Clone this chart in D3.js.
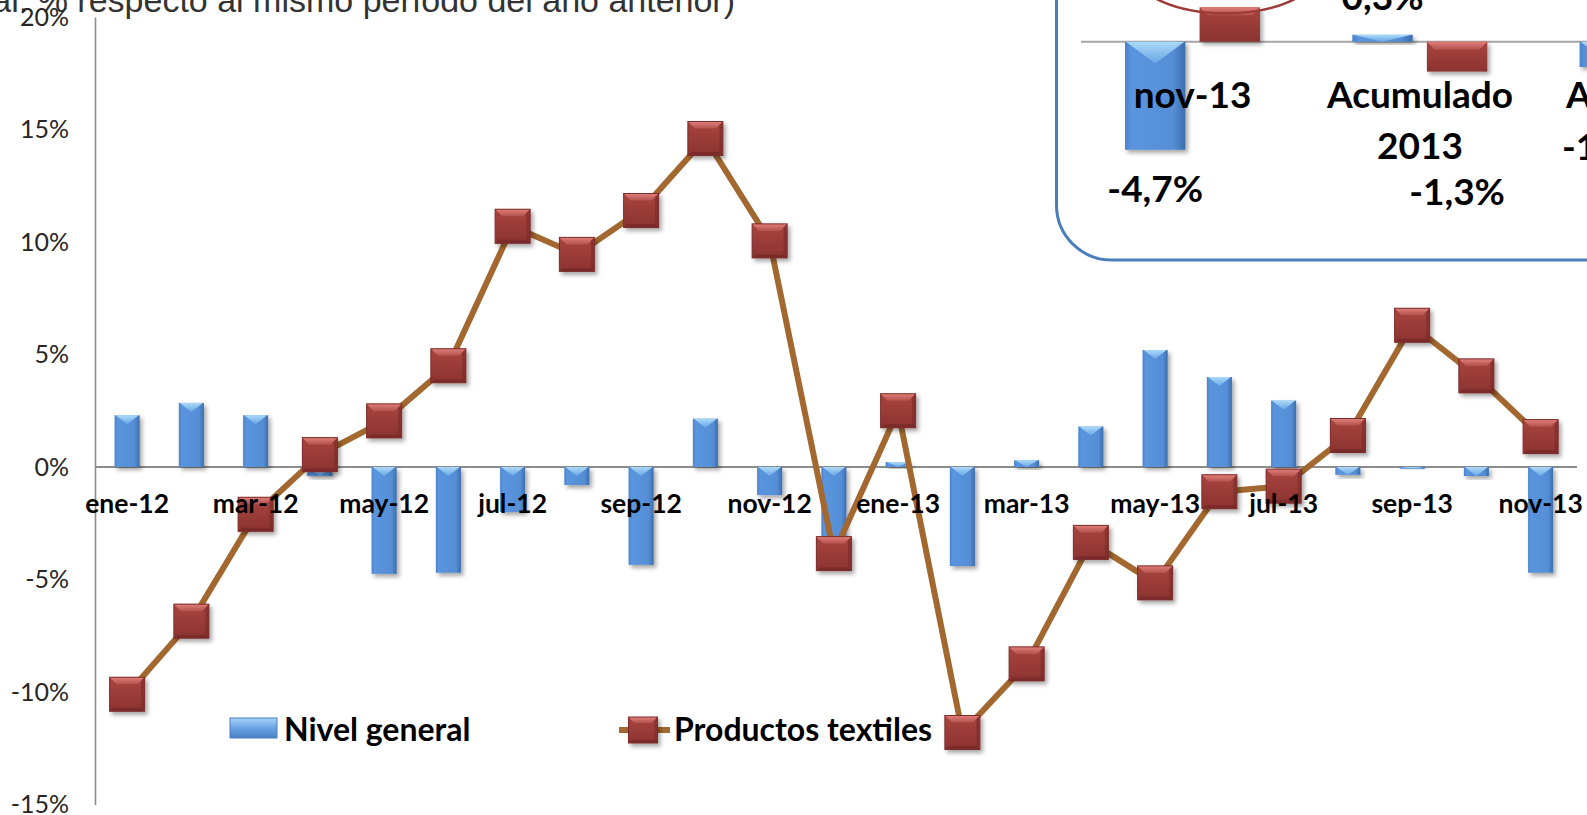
<!DOCTYPE html>
<html><head><meta charset="utf-8">
<script src="https://cdn.jsdelivr.net/npm/d3@7"></script>
<style>
html,body{margin:0;padding:0;background:#fff;overflow:hidden;}
svg{display:block;}
</style></head>
<body>
<div id="chart"></div>
<script>
// ---------------- DATA ----------------
const months = ["ene-12","feb-12","mar-12","abr-12","may-12","jun-12","jul-12","ago-12","sep-12","oct-12","nov-12","dic-12",
                "ene-13","feb-13","mar-13","abr-13","may-13","jun-13","jul-13","ago-13","sep-13","oct-13","nov-13"];
const nivelGeneral = [2.3, 2.85, 2.3, -0.4, -4.75, -4.7, -2.0, -0.8, -4.35, 2.15, -1.25, -3.5,
                      0.22, -4.4, 0.3, 1.8, 5.2, 4.0, 2.95, -0.35, -0.08, -0.4, -4.7];
const productosTextiles = [-10.1, -6.85, -2.1, 0.55, 2.05, 4.5, 10.7, 9.45, 11.4, 14.6, 10.05, -3.85,
                           2.5, -11.8, -8.75, -3.35, -5.15, -1.1, -0.85, 1.4, 6.3, 4.05, 1.35];
const yTicks = [-15, -10, -5, 0, 5, 10, 15, 20];
const seriesNames = ["Nivel general", "Productos textiles"];
const titleText = "(Tasa de variación anual. % respecto al mismo período del año anterior)";

// inset (top right) summary chart
const insetCategories = [["nov-13"], ["Acumulado", "2013"], ["Año 2012"]];
const insetGeneral = [-4.7, 0.3, -1.1];
const insetTextiles = [1.5, -1.3, -0.5];
const insetGeneralLabels = ["-4,7%", "0,3%", "-1,1%"];
const insetTextilesLabels = ["1,5%", "-1,3%", "-0,5%"];

// ---------------- SETUP ----------------
const W = 1587, H = 815;
const svg = d3.select("#chart").append("svg").attr("width", W).attr("height", H)
  .style("font-family", "Lato, 'Open Sans', sans-serif");
const defs = svg.append("defs");

const shadow = defs.append("filter").attr("id","shadow").attr("x","-30%").attr("y","-30%").attr("width","170%").attr("height","170%");
shadow.append("feDropShadow").attr("dx",2.5).attr("dy",3).attr("stdDeviation",2).attr("flood-color","#000").attr("flood-opacity",0.35);

function lg(id, x2, y2, stops){
  const g = defs.append("linearGradient").attr("id", id).attr("x1",0).attr("y1",0).attr("x2",x2).attr("y2",y2);
  stops.forEach(s => g.append("stop").attr("offset", s[0]).attr("stop-color", s[1]));
}
lg("barBody", 1, 0, [["0%","#4b83cc"],["12%","#5a95de"],["80%","#558ed5"],["100%","#3c6dad"]]);
lg("barBevel", 0, 1, [["0%","#b5e2fb"],["100%","#6ba8e8"]]);
lg("mkBody", 0, 1, [["0%","#a8443f"],["100%","#8c3331"]]);
lg("mkBevel", 0, 1, [["0%","#e0807a"],["100%","#b5514d"]]);
lg("legBlue", 0, 1, [["0%","#a9d6f7"],["50%","#6aa3e3"],["100%","#4a80c6"]]);

// ---------------- SCALES ----------------
const x = d3.scaleBand().domain(months).range([95, 95 + 23 * 64.25]).paddingInner(0.61).paddingOuter(0.305);
const y = d3.scaleLinear().domain([-15, 20]).range([804.5, 17]);
const cx = d => x(d) + x.bandwidth() / 2;

// ---------------- TITLE ----------------
svg.append("text").attr("x", 735).attr("y", 12).attr("text-anchor","end")
  .style("font-family","'Liberation Sans', Arial, sans-serif").style("font-size","34px").attr("fill","#333")
  .text(titleText);

// ---------------- AXES ----------------
const yAxis = svg.append("g").attr("transform", "translate(95,0)")
  .call(d3.axisLeft(y).tickValues(yTicks).tickSize(0).tickPadding(26).tickFormat(d => d + "%"));
yAxis.select(".domain").attr("stroke", "#8c8c8c").attr("stroke-width", 1.6);
yAxis.selectAll("text").style("font-family","Lato, sans-serif").style("font-size","25px").attr("fill","#262626");

// zero line
svg.append("line").attr("x1", 95).attr("x2", 1577).attr("y1", y(0)).attr("y2", y(0))
  .attr("stroke", "#8c8c8c").attr("stroke-width", 2);

// ---------------- BARS ----------------
function drawBar(g, x0, w, yTop, yBot){
  const h = yBot - yTop;
  const bg = g.append("g").attr("filter","url(#shadow)");
  bg.append("rect").attr("x", x0).attr("y", yTop).attr("width", w).attr("height", h).attr("fill","url(#barBody)");
  const bh = Math.min(w * 0.36, h);
  bg.append("path").attr("d", `M${x0+1},${yTop} L${x0+w-1},${yTop} L${x0+w/2},${yTop+bh} Z`).attr("fill","url(#barBevel)").attr("opacity",0.9);
}
const barsG = svg.append("g");
months.forEach((m, i) => {
  const v = nivelGeneral[i];
  drawBar(barsG, x(m), x.bandwidth(), Math.min(y(v), y(0)), Math.max(y(v), y(0)));
});

// ---------------- LINE ----------------
const line = d3.line().x((d, i) => cx(months[i])).y(d => y(d));
svg.append("path").datum(productosTextiles).attr("d", line)
  .attr("fill","none").attr("stroke","#a3682f").attr("stroke-width",6).attr("stroke-linejoin","round");

function drawMarker(g, mx, my, w, h){
  const mg = g.append("g").attr("filter","url(#shadow)");
  const x0 = mx - w/2, y0 = my - h/2, b = Math.round(w * 0.2);
  mg.append("rect").attr("x", x0).attr("y", y0).attr("width", w).attr("height", h).attr("fill","url(#mkBody)");
  mg.append("path").attr("d", `M${x0},${y0} L${x0+w},${y0} L${x0+w-b},${y0+b} L${x0+b},${y0+b} Z`).attr("fill","url(#mkBevel)");
  mg.append("path").attr("d", `M${x0+w},${y0} L${x0+w},${y0+h} L${x0+w-b*0.5},${y0+h-b*0.5} L${x0+w-b*0.5},${y0+b*0.5} Z`).attr("fill","#7a2a28").attr("opacity",0.6);
  mg.append("path").attr("d", `M${x0},${y0+h} L${x0+w},${y0+h} L${x0+w-b*0.5},${y0+h-b*0.5} L${x0+b*0.5},${y0+h-b*0.5} Z`).attr("fill","#6e2624").attr("opacity",0.6);
  mg.append("rect").attr("x", x0).attr("y", y0).attr("width", w).attr("height", h).attr("fill","none").attr("stroke","#7d2c2a").attr("stroke-width",1);
}
const mkG = svg.append("g");
productosTextiles.forEach((v, i) => drawMarker(mkG, cx(months[i]), y(v), 35, 34));

// ---------------- X LABELS ----------------
const xAxis = svg.append("g").attr("transform", `translate(0,${y(0)})`)
  .call(d3.axisBottom(x).tickValues(months.filter((d, i) => i % 2 === 0)).tickSize(0).tickPadding(0));
xAxis.select(".domain").remove();
xAxis.selectAll("text").attr("dy", null).attr("y", 46)
  .style("font-family","Lato, sans-serif").style("font-size","26.5px").style("font-weight","bold").attr("fill","#000");

// ---------------- LEGEND ----------------
const leg = svg.append("g");
leg.append("rect").attr("x", 230).attr("y", 718).attr("width", 47).attr("height", 20).attr("fill","url(#legBlue)")
  .attr("stroke","#4a7fc4").attr("stroke-width",1);
leg.append("text").attr("x", 284).attr("y", 741).text(seriesNames[0])
  .style("font-size","32px").style("font-weight","bold").attr("fill","#000");
leg.append("line").attr("x1", 619).attr("x2", 670).attr("y1", 730).attr("y2", 730).attr("stroke","#a3682f").attr("stroke-width",6);
drawMarker(leg, 643, 730, 29, 26);
leg.append("text").attr("x", 674).attr("y", 741).text(seriesNames[1])
  .style("font-size","32px").style("font-weight","bold").attr("fill","#000");

// ---------------- INSET ----------------
const inset = svg.append("g");
inset.append("rect").attr("x", 1056.5).attr("y", -120).attr("width", 700).attr("height", 380).attr("rx", 55)
  .attr("fill","#fff").attr("stroke","#4a7ebb").attr("stroke-width",3);
const xi = d3.scaleBand().domain(d3.range(insetCategories.length)).range([1079, 1079 + 3 * 227.3]);
const xs = d3.scaleBand().domain(seriesNames).range([46, 181]).paddingInner(0.19);
const yi = d3.scaleLinear().domain([-5, 2]).range([41.7 + 5 * 23, 41.7 - 2 * 23]);
inset.append("line").attr("x1", 1081).attr("x2", W).attr("y1", yi(0)).attr("y2", yi(0)).attr("stroke","#a6a6a6").attr("stroke-width",2);
insetCategories.forEach((c, i) => {
  const vg = insetGeneral[i], vt = insetTextiles[i];
  drawBar(inset, xi(i) + xs(seriesNames[0]), xs.bandwidth(), Math.min(yi(vg), yi(0)), Math.max(yi(vg), yi(0)));
  const tx0 = xi(i) + xs(seriesNames[1]), tw = xs.bandwidth();
  const tTop = Math.min(yi(vt), yi(0)), tBot = Math.max(yi(vt), yi(0));
  const tg = inset.append("g").attr("filter","url(#shadow)");
  tg.append("rect").attr("x", tx0).attr("y", tTop).attr("width", tw).attr("height", tBot - tTop).attr("fill","url(#mkBody)");
  const b = Math.min(8, (tBot - tTop) / 2);
  tg.append("path").attr("d", `M${tx0},${tTop} L${tx0+tw},${tTop} L${tx0+tw-b},${tTop+b} L${tx0+b},${tTop+b} Z`).attr("fill","url(#mkBevel)");
});
// category labels
insetCategories.forEach((c, i) => {
  const gc = xi(i) + xi.bandwidth() / 2;
  c.forEach((ln, k) => inset.append("text").attr("x", gc).attr("y", 108 + k * 51).attr("text-anchor","middle")
    .text(ln).style("font-size","37px").style("font-weight","bold").attr("fill","#000"));
});
// value labels (manually placed in the original)
const genLabelY = [201.7, 10, 160];
insetGeneralLabels.forEach((t, i) => inset.append("text")
  .attr("x", xi(i) + xs(seriesNames[0]) + xs.bandwidth() / 2).attr("y", genLabelY[i]).attr("text-anchor","middle")
  .text(t).style("font-size","37px").style("font-weight","bold").attr("fill","#000"));
const texLabelY = [-15, 205, 240];
insetTextilesLabels.forEach((t, i) => inset.append("text")
  .attr("x", xi(i) + xs(seriesNames[1]) + xs.bandwidth() / 2).attr("y", texLabelY[i]).attr("text-anchor","middle")
  .text(t).style("font-size","37px").style("font-weight","bold").attr("fill","#000"));
// highlight ellipse around the nov-13 textiles value
inset.append("ellipse").attr("cx", xi(0) + xs(seriesNames[1]) + xs.bandwidth() / 2 - 4).attr("cy", -26.7)
  .attr("rx", 90).attr("ry", 40).attr("fill","none").attr("stroke","#9e3b38").attr("stroke-width",2.5);
</script>
</body></html>
